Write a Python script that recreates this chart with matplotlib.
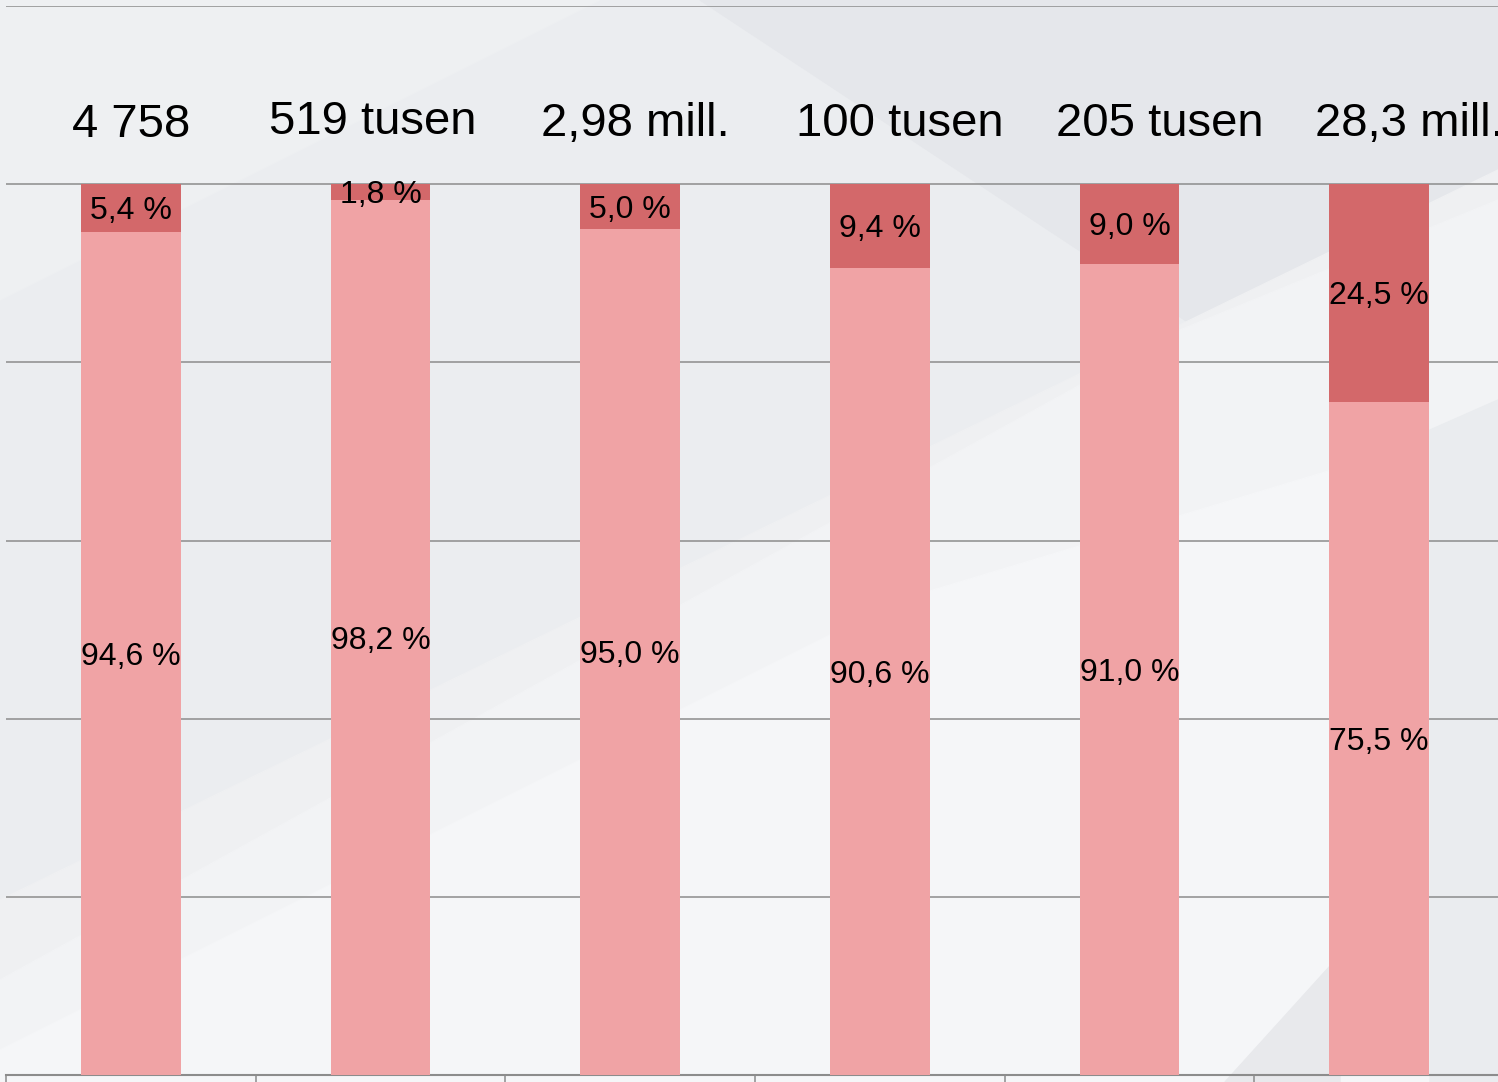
import numpy as np
import matplotlib
matplotlib.use("Agg")
import matplotlib.pyplot as plt
from matplotlib.patches import Polygon

plt.rcParams['font.family'] = ['Liberation Sans', 'DejaVu Sans']

# Data
kategorier = ["4 758", "519 tusen", "2,98 mill.", "100 tusen", "205 tusen", "28,3 mill."]
nedre = [94.6, 98.2, 95.0, 90.6, 91.0, 75.5]
ovre = [5.4, 1.8, 5.0, 9.4, 9.0, 24.5]
# forskyvning av titteltekst i forhold til stolpen (kategori-enheter)
titel_dx = [0.0, -0.03, 0.02, 0.08, 0.12, 0.12]
titel_y = [106.6, 107.0, 106.8, 106.8, 106.8, 106.8]

lys = "#F0A3A5"
mork = "#D3686A"
gridfarge = "#8C8C8C"

fig = plt.figure(figsize=(14.98, 10.82), dpi=100)

# Bakgrunn med svake flater
bg = fig.add_axes([0, 0, 1, 1], zorder=-2)
bg.set_xlim(0, 1498)
bg.set_ylim(1082, 0)
bg.axis("off")
bg.add_patch(Polygon([[0, 0], [1498, 0], [1498, 1082], [0, 1082]], color="#EBEDF0"))
bg.add_patch(Polygon([[0, 0], [600, 0], [0, 300]], color="#EEF0F2"))
bg.add_patch(Polygon([[700, 0], [1498, 0], [1498, 250], [1200, 330]], color="#E5E7EB"))
bg.add_patch(Polygon([[0, 1082], [0, 900], [1498, 170], [1498, 1082]], color="#EFF0F2"))
bg.add_patch(Polygon([[0, 1082], [0, 980], [1180, 330], [1498, 200], [1498, 1082]], color="#F2F3F5"))
bg.add_patch(Polygon([[0, 1082], [0, 1050], [900, 600], [1498, 420], [1498, 1082]], color="#F5F6F8"))
bg.add_patch(Polygon([[1225, 1082], [1340, 955], [1340, 1082]], color="#E8E9EC"))
bg.add_patch(Polygon([[1430, 1082], [1430, 430], [1498, 400], [1498, 1082]], color="#EAECEF"))

ax = fig.add_axes([6 / 1498, 7 / 1082, 1498 / 1498, 1069 / 1082])
ax.set_facecolor("none")

x = np.arange(len(kategorier))
ax.bar(x, nedre, width=0.4, color=lys, zorder=3)
ax.bar(x, ovre, width=0.4, bottom=nedre, color=mork, zorder=3)

for i in range(len(kategorier)):
    ax.text(x[i], nedre[i] / 2 - 0.35, f"{nedre[i]:.1f} %".replace(".", ","),
            ha="center", va="center", fontsize=23, zorder=4)
    ax.text(x[i], nedre[i] + ovre[i] / 2 - 0.35, f"{ovre[i]:.1f} %".replace(".", ","),
            ha="center", va="center", fontsize=23, zorder=4)
    ax.text(x[i] + titel_dx[i], titel_y[i], kategorier[i],
            ha="center", va="center", fontsize=34, zorder=4)

ax.set_xlim(-0.5, 5.5)
ax.set_ylim(0, 120)
ax.set_yticks(np.arange(0, 121, 20))
ax.yaxis.grid(True, color=gridfarge, linewidth=1.1, zorder=0)
ax.set_axisbelow(True)
ax.tick_params(axis="y", left=False, labelleft=False)
ax.set_xticks(np.arange(-0.5, 5.6, 1.0))
ax.tick_params(axis="x", direction="out", length=6, width=1.1, color=gridfarge, labelbottom=False)
for s in ["top", "right", "left"]:
    ax.spines[s].set_visible(False)
ax.spines["bottom"].set_color(gridfarge)
ax.spines["bottom"].set_linewidth(1.5)

fig.savefig("out.png", dpi=100)
